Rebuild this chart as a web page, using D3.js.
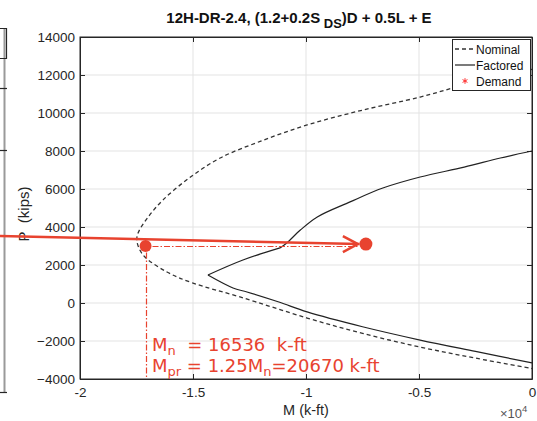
<!DOCTYPE html>
<html>
<head>
<meta charset="utf-8">
<script src="https://cdn.jsdelivr.net/npm/d3@7"></script>
<style>
  html, body { margin: 0; padding: 0; background: #fff; }
  svg { display: block; }
  text { font-family: "Liberation Sans", Arial, Helvetica, sans-serif; }
  text.note { font-family: "DejaVu Sans", Verdana, sans-serif; }
</style>
</head>
<body>
<svg id="chart" width="537" height="421"></svg>
<script>
// Interaction diagram, pier 12H-DR-2.4
const nominalM = [0, -2000, -3500, -4950, -7500, -9950, -12000, -13800, -15200, -16330, -17000, -17430, -17480, -17210, -16150, -15000, -12920, -9950, -7500, -4950, -2500, 0];
const nominalP = [12300, 11820, 11320, 10840, 10150, 9370, 8520, 7630, 6550, 5420, 4500, 3680, 3250, 2530, 1630, 1050, 320, -790, -1600, -2320, -2900, -3450];

const factoredM = [0, -1400, -3000, -4950, -6600, -8050, -9500, -10250, -10850, -11150, -12790, -14340, -13230, -12610, -11200, -9950, -7500, -4950, -2500, 0];
const factoredP = [8000, 7630, 7150, 6630, 6050, 5320, 4530, 3840, 3160, 2900, 2260, 1470, 790, 580, 50, -470, -1250, -1950, -2550, -3150];

// Demand markers and the moment-capacity annotation
const capacityM = -17100, capacityP = 3000;
const demandM = -7350, demandP = 3100;
const arrowStartM = -23540, arrowStartP = 3520;

const xTicks = [-20000, -15000, -10000, -5000, 0];
const xTickLabels = ["-2", "-1.5", "-1", "-0.5", "0"];
const yTicks = [-4000, -2000, 0, 2000, 4000, 6000, 8000, 10000, 12000, 14000];
const legendLabels = ["Nominal", "Factored", "Demand"];
const noteMn = "16536";
const noteMpr = "20670";

const svg = d3.select("#chart");
const mLeft = 80, mRight = 532, mTop = 37, mBottom = 379;
const x = d3.scaleLinear().domain([-20000, 0]).range([mLeft, mRight]);
const y = d3.scaleLinear().domain([-4000, 14000]).range([mBottom, mTop]);
const axisColor = "#262626";
const red = "#e8432f";
const nb = "\u00a0";

// clipped edge of the neighbouring panel
const edge = svg.append("g");
edge.append("line").attr("x1", 4.5).attr("x2", 4.5).attr("y1", 28).attr("y2", 392)
  .attr("stroke", "#9a9a9a").attr("stroke-width", 2);
edge.append("path").attr("d", "M0,28.5H6.5V58.5H0").attr("fill", "none").attr("stroke", axisColor).attr("stroke-width", 1.2);
[88, 150, 392].forEach(v => edge.append("line").attr("x1", 0).attr("x2", 7).attr("y1", v + 0.5).attr("y2", v + 0.5)
  .attr("stroke", axisColor).attr("stroke-width", 1.2));

// grid
const grid = svg.append("g").attr("stroke", "#e3e3e3").attr("stroke-width", 1);
xTicks.slice(1, -1).forEach(t => grid.append("line").attr("x1", x(t)).attr("x2", x(t)).attr("y1", mTop).attr("y2", mBottom));
yTicks.slice(1, -1).forEach(t => grid.append("line").attr("x1", mLeft).attr("x2", mRight).attr("y1", y(t)).attr("y2", y(t)));

// axes (ticks inward on all four sides)
const tickLen = 5;
const xAxisB = d3.axisBottom(x).tickValues(xTicks).tickSizeInner(-tickLen).tickSizeOuter(0).tickPadding(8)
  .tickFormat((d, i) => xTickLabels[i]);
const xAxisT = d3.axisTop(x).tickValues(xTicks).tickSizeInner(-tickLen).tickSizeOuter(0).tickFormat("");
const yAxisL = d3.axisLeft(y).tickValues(yTicks).tickSizeInner(-tickLen).tickSizeOuter(0).tickPadding(5)
  .tickFormat(d3.format("d"));
const yAxisR = d3.axisRight(y).tickValues(yTicks).tickSizeInner(-tickLen).tickSizeOuter(0).tickFormat("");

function styleAxis(g) {
  g.selectAll("path, line").attr("stroke", axisColor).attr("stroke-width", 1);
  g.selectAll("text").attr("fill", axisColor).style("font-size", "13.5px").style("font-family", "Liberation Sans, Arial, sans-serif");
}
svg.append("g").attr("transform", `translate(0,${mBottom})`).call(xAxisB).call(styleAxis);
svg.append("g").attr("transform", `translate(0,${mTop})`).call(xAxisT).call(styleAxis);
svg.append("g").attr("transform", `translate(${mLeft},0)`).call(yAxisL).call(styleAxis);
svg.append("g").attr("transform", `translate(${mRight},0)`).call(yAxisR).call(styleAxis);

// curves
const smooth = d3.line().x(d => x(d[0])).y(d => y(d[1])).curve(d3.curveCatmullRom.alpha(0.5));
svg.append("path").datum(d3.zip(nominalM, nominalP)).attr("d", smooth)
  .attr("fill", "none").attr("stroke", "#333").attr("stroke-width", 1.3).attr("stroke-dasharray", "4,3");
// factored curve: smooth pieces joined at its kinks
const fPts = d3.zip(factoredM, factoredP);
const fPieces = [fPts.slice(0, 10), fPts.slice(9, 12), fPts.slice(11)];
fPieces.forEach(p => svg.append("path").datum(p).attr("d", smooth)
  .attr("fill", "none").attr("stroke", "#222").attr("stroke-width", 1.2));

// frame on top
svg.append("rect").attr("x", mLeft).attr("y", mTop).attr("width", mRight - mLeft).attr("height", mBottom - mTop)
  .attr("fill", "none").attr("stroke", axisColor).attr("stroke-width", 1);

// axis titles
svg.append("text").attr("x", (mLeft + mRight) / 2).attr("y", 415).attr("text-anchor", "middle")
  .attr("fill", axisColor).style("font-size", "14.5px").text("M (k-ft)");
const ex = svg.append("text").attr("x", 500).attr("y", 418).attr("fill", "#555").style("font-size", "13px");
ex.append("tspan").text("×10");
ex.append("tspan").attr("dy", -6).style("font-size", "9.5px").text("4");
svg.append("text").attr("transform", `translate(29,214) rotate(-90)`).attr("text-anchor", "middle")
  .attr("fill", axisColor).style("font-size", "15px").text("P" + nb + nb + "(kips)");

// title
const title = svg.append("text").attr("x", 299).attr("y", 23).attr("text-anchor", "middle")
  .attr("fill", "#111").style("font-size", "15px").style("font-weight", "bold");
title.append("tspan").text("12H-DR-2.4, (1.2+0.2S");
title.append("tspan").attr("dy", 5).style("font-size", "13px").text(" DS");
title.append("tspan").attr("dy", -5).text(")D + 0.5L + E");

// legend
const lg = svg.append("g");
lg.append("rect").attr("x", 452.5).attr("y", 39.5).attr("width", 78).attr("height", 51)
  .attr("fill", "#fff").attr("stroke", axisColor).attr("stroke-width", 1);
const ly = [49, 65, 81];
lg.append("line").attr("x1", 455).attr("x2", 475).attr("y1", ly[0]).attr("y2", ly[0])
  .attr("stroke", "#333").attr("stroke-width", 1.3).attr("stroke-dasharray", "4,3");
lg.append("line").attr("x1", 455).attr("x2", 475).attr("y1", ly[1]).attr("y2", ly[1])
  .attr("stroke", "#222").attr("stroke-width", 1.2);
lg.append("path").attr("transform", `translate(465,${ly[2]})`).attr("d", d3.symbol(d3.symbolAsterisk, 22))
  .attr("fill", "none").attr("stroke", "#ff3030").attr("stroke-width", 1);
legendLabels.forEach((t, i) => lg.append("text").attr("x", 476).attr("y", ly[i] + 4.5)
  .attr("fill", "#111").style("font-size", "12px").text(t));

// demand annotations
const ann = svg.append("g");
const cx = Math.round(x(capacityM)) + 0.5, cy = Math.round(y(capacityP)) + 0.5;
ann.append("line").attr("x1", cx).attr("x2", cx).attr("y1", cy + 6).attr("y2", mBottom)
  .attr("stroke", red).attr("stroke-width", 1.2).attr("stroke-dasharray", "6,2,1.5,2");
ann.append("line").attr("x1", cx + 6).attr("x2", x(demandM) - 8).attr("y1", cy).attr("y2", cy)
  .attr("stroke", red).attr("stroke-width", 1.2).attr("stroke-dasharray", "6,2,1.5,2");
ann.append("line").attr("x1", x(arrowStartM)).attr("y1", y(arrowStartP)).attr("x2", x(demandM) - 7).attr("y2", y(demandP))
  .attr("stroke", red).attr("stroke-width", 2.5);
const ax = x(demandM) - 8, ay = y(demandP);
ann.append("path").attr("d", `M${ax - 15},${ay - 8}L${ax},${ay}L${ax - 15},${ay + 8}`)
  .attr("fill", "none").attr("stroke", red).attr("stroke-width", 2.5).attr("stroke-linejoin", "miter");
ann.append("circle").attr("cx", x(capacityM)).attr("cy", y(capacityP)).attr("r", 6).attr("fill", red);
ann.append("circle").attr("cx", x(demandM)).attr("cy", y(demandP)).attr("r", 6.5).attr("fill", red);

const note = svg.append("g").attr("fill", red);
const t1 = note.append("text").attr("class", "note").attr("x", 152).attr("y", 351).style("font-size", "18px");
t1.append("tspan").text("M");
t1.append("tspan").attr("dy", 4).style("font-size", "13px").text("n");
t1.append("tspan").attr("dy", -4).text(nb + nb + "=" + nb + noteMn + nb + nb + "k-ft");
const t2 = note.append("text").attr("class", "note").attr("x", 152).attr("y", 372).style("font-size", "18px");
t2.append("tspan").text("M");
t2.append("tspan").attr("dy", 4).style("font-size", "13px").text("pr");
t2.append("tspan").attr("dy", -4).text(" = 1.25M");
t2.append("tspan").attr("dy", 4).style("font-size", "13px").text("n");
t2.append("tspan").attr("dy", -4).text("=" + noteMpr + " k-ft");
</script>
</body>
</html>
